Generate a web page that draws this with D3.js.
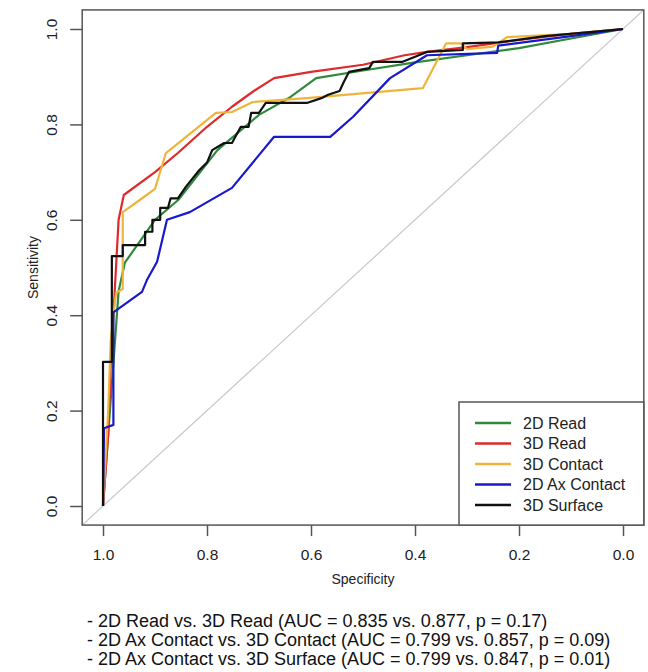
<!DOCTYPE html>
<html>
<head>
<meta charset="utf-8">
<script src="https://cdn.jsdelivr.net/npm/d3@7"></script>
<style>
  body { margin: 0; background: #fff; }
  svg { display: block; font-family: "Liberation Sans", Arial, sans-serif; }
</style>
</head>
<body>
<svg width="648" height="672"></svg>
<script>
// Series names and colours
var seriesNames = ["2D Read", "3D Read", "3D Contact", "2D Ax Contact", "3D Surface"];
var seriesColors = ["#2f8a3b", "#de2a2a", "#efb43c", "#1818cc", "#111111"];

// ROC points: [specificity, sensitivity]
var read2d = [[1,0],[0.99,0.15],[0.98,0.3],[0.97,0.45],[0.958,0.51],[0.9,0.6],[0.855,0.642],
  [0.78,0.746],[0.7,0.82],[0.64,0.857],[0.59,0.897],[0.5,0.913],[0.4,0.93],[0.3,0.945],
  [0.2,0.96],[0.1,0.98],[0,1]];
var read3d = [[1,0],[0.99,0.15],[0.985,0.3],[0.975,0.5],[0.97,0.6],[0.96,0.652],[0.9,0.7],
  [0.856,0.74],[0.8,0.795],[0.752,0.837],[0.71,0.87],[0.671,0.897],[0.6,0.91],[0.5,0.925],
  [0.42,0.945],[0.377,0.952],[0.3,0.962],[0.2,0.977],[0.1,0.99],[0,1]];
var contact3d = [[1,0],[0.99,0.2],[0.985,0.35],[0.975,0.447],[0.962,0.455],[0.962,0.616],
  [0.93,0.641],[0.9,0.665],[0.879,0.74],[0.783,0.824],[0.752,0.826],[0.712,0.847],[0.608,0.855],
  [0.385,0.876],[0.34,0.97],[0.312,0.97],[0.3,0.958],[0.25,0.963],[0.223,0.983],[0.1,0.99],[0,1]];
var axContact2d = [[1,0],[0.998,0.163],[0.98,0.17],[0.98,0.29],[0.98,0.406],[0.925,0.449],
  [0.915,0.475],[0.896,0.512],[0.877,0.6],[0.833,0.616],[0.752,0.667],[0.671,0.774],
  [0.563,0.774],[0.519,0.816],[0.448,0.897],[0.377,0.945],[0.242,0.95],[0.24,0.965],
  [0.1,0.985],[0,1]];
var surface3d = [[1,0],[1,0.302],[0.983,0.302],[0.983,0.524],[0.962,0.524],[0.962,0.547],
  [0.919,0.547],[0.919,0.575],[0.905,0.575],[0.905,0.6],[0.89,0.6],[0.89,0.625],[0.875,0.625],
  [0.87,0.645],[0.856,0.645],[0.84,0.67],[0.815,0.704],[0.8,0.72],[0.79,0.746],[0.767,0.761],
  [0.752,0.761],[0.735,0.795],[0.72,0.795],[0.715,0.824],[0.7,0.824],[0.687,0.845],
  [0.608,0.845],[0.58,0.855],[0.567,0.862],[0.545,0.87],[0.537,0.889],[0.527,0.91],
  [0.488,0.918],[0.481,0.931],[0.425,0.931],[0.377,0.952],[0.308,0.956],[0.308,0.97],
  [0.24,0.972],[0.15,0.985],[0,1]];
var allSeries = [read2d, read3d, contact3d, axContact2d, surface3d];

var tickValues = [0, 0.2, 0.4, 0.6, 0.8, 1.0];
var notes = [
  "- 2D Read vs. 3D Read (AUC = 0.835 vs. 0.877, p = 0.17)",
  "- 2D Ax Contact vs. 3D Contact (AUC = 0.799 vs. 0.857, p = 0.09)",
  "- 2D Ax Contact vs. 3D Surface (AUC = 0.799 vs. 0.847, p = 0.01)"
];

var svg = d3.select("svg");

// Scales (specificity reversed, R style 4% padding)
var x = d3.scaleLinear().domain([1, 0]).range([103, 623]);
var y = d3.scaleLinear().domain([0, 1]).range([506, 29]);
var box = { x0: x(1.04), x1: x(-0.04), y0: y(1.04), y1: y(-0.04) };

svg.append("clipPath").attr("id", "clip")
  .append("rect")
  .attr("x", box.x0).attr("y", box.y0)
  .attr("width", box.x1 - box.x0).attr("height", box.y1 - box.y0);

// Diagonal reference
svg.append("line")
  .attr("clip-path", "url(#clip)")
  .attr("x1", x(1.04)).attr("y1", y(-0.04))
  .attr("x2", x(-0.04)).attr("y2", y(1.04))
  .attr("stroke", "#c8c8c8").attr("stroke-width", 1.2);

// ROC curves
var line = d3.line().x(d => x(d[0])).y(d => y(d[1]));
svg.append("g")
  .attr("clip-path", "url(#clip)")
  .selectAll("path")
  .data(allSeries)
  .enter().append("path")
  .attr("d", line)
  .attr("fill", "none")
  .attr("stroke", (d, i) => seriesColors[i])
  .attr("stroke-width", 2.2)
  .attr("stroke-linejoin", "round");

// Axes
var xAxis = svg.append("g")
  .attr("transform", `translate(0,${box.y1})`)
  .call(d3.axisBottom(x).tickValues(tickValues).tickFormat(d3.format(".1f")).tickSize(11).tickPadding(6));
var yAxis = svg.append("g")
  .attr("transform", `translate(${box.x0},0)`)
  .call(d3.axisLeft(y).tickValues(tickValues).tickFormat(d3.format(".1f")).tickSize(12));

[xAxis, yAxis].forEach(function(g) {
  g.select(".domain").remove();
  g.selectAll(".tick line").attr("stroke", "#555").attr("stroke-width", 1.5);
  g.selectAll(".tick text")
    .attr("fill", "#222")
    .style("font-size", "15.5px")
    .style("font-family", "'Liberation Sans', Arial, sans-serif");
});
xAxis.selectAll(".tick text").attr("dy", null).attr("y", 0).attr("transform", "translate(0,35)");
yAxis.selectAll(".tick text")
  .attr("x", null).attr("dy", null)
  .attr("text-anchor", "middle")
  .attr("transform", "translate(-25,0) rotate(-90)");

// Plot box
svg.append("rect")
  .attr("x", box.x0).attr("y", box.y0)
  .attr("width", box.x1 - box.x0).attr("height", box.y1 - box.y0)
  .attr("fill", "none").attr("stroke", "#555").attr("stroke-width", 1.5);

// Axis titles
svg.append("text")
  .attr("transform", `translate(38,${(box.y0 + box.y1) / 2}) rotate(-90)`)
  .attr("text-anchor", "middle")
  .style("font-size", "14px").attr("fill", "#222")
  .text("Sensitivity");
svg.append("text")
  .attr("x", (box.x0 + box.x1) / 2).attr("y", 584)
  .attr("text-anchor", "middle")
  .style("font-size", "14px").attr("fill", "#222")
  .text("Specificity");

// Legend
var legend = svg.append("g");
legend.append("rect")
  .attr("x", 459).attr("y", 402)
  .attr("width", box.x1 - 459).attr("height", box.y1 - 402)
  .attr("fill", "#fff").attr("stroke", "#555").attr("stroke-width", 1.5);
var items = legend.selectAll("g.item")
  .data(seriesNames)
  .enter().append("g")
  .attr("class", "item")
  .attr("transform", (d, i) => `translate(0,${423 + i * 20.5})`);
items.append("line")
  .attr("x1", 475).attr("x2", 511)
  .attr("stroke", (d, i) => seriesColors[i])
  .attr("stroke-width", 2.6);
items.append("text")
  .attr("x", 523).attr("dy", "0.35em")
  .style("font-size", "16px").attr("fill", "#222")
  .text(d => d);

// Notes under the chart
svg.append("g").selectAll("text")
  .data(notes)
  .enter().append("text")
  .attr("x", 87)
  .attr("y", (d, i) => 627 + i * 19)
  .style("font-size", "18px").attr("fill", "#111")
  .text(d => d);
</script>
</body>
</html>
